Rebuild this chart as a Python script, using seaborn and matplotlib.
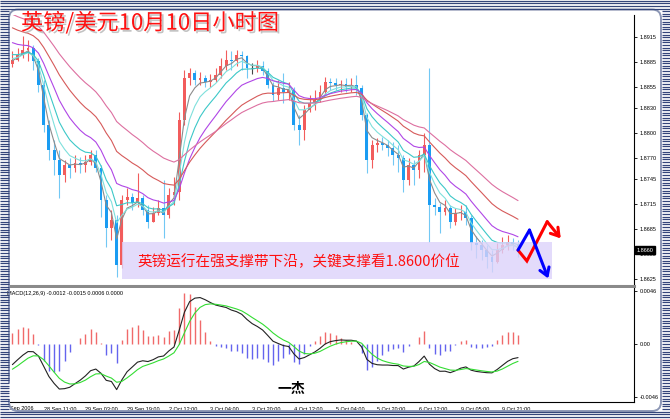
import numpy as np
import pandas as pd
import matplotlib
matplotlib.use("Agg")
import matplotlib.pyplot as plt
import matplotlib.patheffects as pe
from matplotlib.patches import Rectangle, FancyBboxPatch
import seaborn as sns

W, H = 670, 419

# === DATA: GBP/USD, 2-hour candles, 27 Sep 2006 -> 10 Oct 2006 ===
first_open = 1.8883
close = [1.8888, 1.8894, 1.8900, 1.8902, 1.8886, 1.8858, 1.8810, 1.8780, 1.8768, 1.8750,
         1.8762, 1.8758, 1.8764, 1.8762, 1.8766, 1.8774, 1.8758, 1.8720, 1.8686, 1.8696,
         1.8642, 1.8720, 1.8724, 1.8716, 1.8722, 1.8708, 1.8694, 1.8704, 1.8710, 1.8702,
         1.8726, 1.8730, 1.8816, 1.8866, 1.8872, 1.8864, 1.8866, 1.8862, 1.8864, 1.8870,
         1.8881, 1.8888, 1.8886, 1.8894, 1.8892, 1.8878, 1.8878, 1.8881, 1.8875, 1.8858,
         1.8846, 1.8854, 1.8850, 1.8852, 1.8810, 1.8804, 1.8828, 1.8836, 1.8840, 1.8850,
         1.8862, 1.8860, 1.8858, 1.8859, 1.8856, 1.8858, 1.8854, 1.8822, 1.8768, 1.8786,
         1.8788, 1.8786, 1.8782, 1.8774, 1.8770, 1.8744, 1.8762, 1.8756, 1.8774, 1.8786,
         1.8714, 1.8712, 1.8706, 1.8710, 1.8694, 1.8704, 1.8706, 1.8698, 1.8668, 1.8666,
         1.8660, 1.8652, 1.8646, 1.8660, 1.8666, 1.8670, 1.8667, 1.8660]
high = [1.8898, 1.8902, 1.8916, 1.8912, 1.8906, 1.8890, 1.8864, 1.8816, 1.8792, 1.8780,
        1.8768, 1.8770, 1.8774, 1.8772, 1.8774, 1.8780, 1.8780, 1.8762, 1.8726, 1.8708,
        1.8702, 1.8726, 1.8734, 1.8728, 1.8752, 1.8726, 1.8714, 1.8712, 1.8720, 1.8744,
        1.8735, 1.8748, 1.8826, 1.8876, 1.8878, 1.8876, 1.8874, 1.8870, 1.8871, 1.8878,
        1.8890, 1.8900, 1.8898, 1.8900, 1.8898, 1.8894, 1.8884, 1.8888, 1.8886, 1.8878,
        1.8862, 1.8864, 1.8872, 1.8862, 1.8856, 1.8822, 1.8834, 1.8846, 1.8852, 1.8858,
        1.8868, 1.8866, 1.8866, 1.8864, 1.8866, 1.8866, 1.8870, 1.8858, 1.8824, 1.8792,
        1.8794, 1.8796, 1.8792, 1.8790, 1.8786, 1.8774, 1.8770, 1.8768, 1.8780, 1.8800,
        1.8878, 1.8722, 1.8716, 1.8720, 1.8714, 1.8710, 1.8714, 1.8714, 1.8702, 1.8677,
        1.8672, 1.8666, 1.8660, 1.8668, 1.8676, 1.8678, 1.8674, 1.8672]
low = [1.8879, 1.8886, 1.8890, 1.8886, 1.8876, 1.8850, 1.8802, 1.8768, 1.8750, 1.8722,
       1.8742, 1.8746, 1.8754, 1.8752, 1.8754, 1.8762, 1.8754, 1.8700, 1.8664, 1.8672,
       1.8628, 1.8638, 1.8714, 1.8708, 1.8712, 1.8702, 1.8686, 1.8694, 1.8702, 1.8674,
       1.8698, 1.8714, 1.8720, 1.8810, 1.8858, 1.8858, 1.8858, 1.8856, 1.8856, 1.8862,
       1.8866, 1.8876, 1.8876, 1.8881, 1.8876, 1.8866, 1.8871, 1.8874, 1.8870, 1.8854,
       1.8839, 1.8840, 1.8836, 1.8840, 1.8804, 1.8786, 1.8792, 1.8826, 1.8828, 1.8838,
       1.8846, 1.8852, 1.8852, 1.8850, 1.8850, 1.8850, 1.8846, 1.8816, 1.8752, 1.8758,
       1.8778, 1.8780, 1.8773, 1.8762, 1.8754, 1.8730, 1.8738, 1.8738, 1.8746, 1.8754,
       1.8670, 1.8702, 1.8680, 1.8702, 1.8686, 1.8690, 1.8696, 1.8690, 1.8660, 1.8650,
       1.8648, 1.8638, 1.8634, 1.8644, 1.8656, 1.8660, 1.8660, 1.8652]

# moving averages (EMA, span in 2-hour bars) and their values just before the first bar
ma_names = ["ma_gray", "ma_cyan", "ma_teal", "ma_purple", "ma_red", "ma_pink"]
ma_spans = [3, 5, 8, 13, 22, 33]
ma_seeds = [1.8886, 1.8890, 1.8896, 1.8912, 1.8930, 1.8946]

# MACD(12,26,9) on hourly -> spans 6 / 13 / 4.5 on 2-hour bars
macd_fast_seed, macd_slow_seed, macd_signal_seed = 1.8880, 1.8902, -0.0024
macd_header = "MACD(12,26,9) -0.0012 -0.0015 0.0006 0.0000"

price_ticks = [1.8915, 1.8885, 1.8855, 1.8830, 1.8800, 1.8770, 1.8745,
               1.8715, 1.8685, 1.8655, 1.8625]
macd_ticks = [0.0046, 0.0, -0.0046]
macd_tick_labels = ["0.0046", "0.00", "-0.0046"]
time_labels = ["28 Sep 11:00", "29 Sep 03:00", "29 Sep 19:00", "2 Oct 12:00",
               "3 Oct 04:00", "3 Oct 20:00", "4 Oct 12:00", "5 Oct 04:00",
               "5 Oct 20:00", "6 Oct 12:00", "9 Oct 05:00", "9 Oct 21:00"]

# hand-drawn forecast paths (bar index, price)
red_path_x = [97, 98.7, 102.6, 105.2]
red_path_y = [1.8660, 1.8647, 1.8694, 1.8674]
blue_path_x = [97, 99.2, 102.8]
blue_path_y = [1.8660, 1.8684, 1.8626]

title_text = "英镑/美元10月10日小时图"
note_text = "英镑运行在强支撑带下沿，关键支撑看1.8600价位"
sign_text = "一杰"

# === STYLE ===
BULL = "#f25c5c"
BEAR = "#1a9cf2"
BEAR_WICK = "#72c8f4"
MA_COLORS = {"ma_gray": "#8c8c8c", "ma_cyan": "#7fe0dc", "ma_teal": "#3cc8c8",
             "ma_purple": "#b046e6", "ma_red": "#d65a5a", "ma_pink": "#dd6fa0"}
NAVY = "#34457a"
SMALL = dict(fontsize=4, fontfamily="Liberation Sans")

sns.set_style("white")
plt.rcParams["font.family"] = ["Noto Sans CJK SC", "DejaVu Sans"]

fig = plt.figure(figsize=(W / 100, H / 100), dpi=100)
fig.patch.set_facecolor("white")


def fig_box(x0, y0, x1, y1):
    return [x0 / W, 1 - y1 / H, (x1 - x0) / W, (y1 - y0) / H]


ax = fig.add_axes(fig_box(10, 15, 634, 286))
axm = fig.add_axes(fig_box(10, 288, 634, 401.7))

close = np.array(close)
high = np.array(high)
low = np.array(low)
n = len(close)
idx = np.arange(n)
opn = np.r_[first_open, close[:-1]]
up = close > opn
dn = close < opn
fl = ~(up | dn)

# === candles ===
ax.vlines(idx[up], low[up], high[up], color=BULL, lw=0.8, zorder=2)
ax.vlines(idx[dn], low[dn], high[dn], color=BEAR_WICK, lw=0.8, zorder=2)
ax.vlines(idx[fl], low[fl], high[fl], color="#444444", lw=0.8, zorder=2)
ax.bar(idx[up], np.maximum(close[up] - opn[up], 0.00006), bottom=opn[up],
       width=0.55, color=BULL, lw=0, zorder=3)
ax.bar(idx[dn], np.maximum(opn[dn] - close[dn], 0.00006), bottom=close[dn],
       width=0.55, color=BEAR, lw=0, zorder=3)
ax.hlines(close[fl], idx[fl] - 0.3, idx[fl] + 0.3, color="#444444", lw=0.8, zorder=3)

# === moving averages ===
rows = []
for name, span, seed in zip(ma_names, ma_spans, ma_seeds):
    ema = pd.Series(np.r_[seed, close]).ewm(span=span, adjust=False).mean().iloc[1:]
    rows.append(pd.DataFrame({"bar": idx, "value": ema.values, "ma": name}))
ma_df = pd.concat(rows, ignore_index=True)
sns.lineplot(data=ma_df, x="bar", y="value", hue="ma", palette=MA_COLORS,
             lw=0.8, legend=False, sort=False, ax=ax, zorder=4)

ax.set_xlim(-0.46, 119.25)
ax.set_ylim(1.86170, 1.89417)
ax.set_xlabel("")
ax.set_ylabel("")
ax.set_xticks([])
ax.yaxis.tick_right()
ax.set_yticks(price_ticks)
ax.set_yticklabels([f"{t:.4f}" for t in price_ticks], **SMALL)
ax.tick_params(axis="y", length=2, width=0.6, pad=2, colors="black")
for s in ["top", "left"]:
    ax.spines[s].set_visible(False)
ax.spines["right"].set_color("black")
ax.spines["right"].set_linewidth(0.8)
ax.spines["bottom"].set_color("#8a8a8a")
ax.spines["bottom"].set_linewidth(2.2)

last = close[-1]
ax.text(1.004, last, f"{last:.4f}", transform=ax.get_yaxis_transform(),
        ha="left", va="center", color="white", zorder=10, clip_on=False,
        bbox=dict(boxstyle="square,pad=0.25", fc="black", ec="black"), **SMALL)

# === MACD panel ===
fast = pd.Series(np.r_[macd_fast_seed, close]).ewm(span=6, adjust=False).mean().iloc[1:].values
slow = pd.Series(np.r_[macd_slow_seed, close]).ewm(span=13, adjust=False).mean().iloc[1:].values
macd = fast - slow
signal = pd.Series(np.r_[macd_signal_seed, macd]).ewm(span=4.5, adjust=False).mean().iloc[1:].values
hist = 2.5 * (macd - signal)

axm.vlines(idx, 0, hist, colors=np.where(hist >= 0, "#f06a6a", "#6464ee"), lw=1.0, zorder=2)
macd_df = pd.concat([pd.DataFrame({"bar": idx, "value": macd, "line": "macd"}),
                     pd.DataFrame({"bar": idx, "value": signal, "line": "signal"})],
                    ignore_index=True)
sns.lineplot(data=macd_df, x="bar", y="value", hue="line",
             palette={"macd": "#222222", "signal": "#33dd33"},
             lw=0.8, legend=False, sort=False, ax=axm, zorder=3)

axm.set_xlim(-0.46, 119.25)
axm.set_ylim(-0.00498, 0.00486)
axm.set_xlabel("")
axm.set_ylabel("")
axm.yaxis.tick_right()
axm.set_yticks(macd_ticks)
axm.set_yticklabels(macd_tick_labels, **SMALL)
axm.tick_params(axis="y", length=2, width=0.6, pad=2, colors="black")
tick_bars = 6 + 8 * np.arange(len(time_labels))
axm.set_xticks(tick_bars)
axm.set_xticklabels(time_labels, ha="left", **SMALL)
axm.tick_params(axis="x", length=2.5, width=0.6, pad=1.5, colors="black")
for s in ["top", "left"]:
    axm.spines[s].set_visible(False)
for s in ["right", "bottom"]:
    axm.spines[s].set_color("black")
    axm.spines[s].set_linewidth(0.8)

# === overlay in pixel coordinates: frame, notes, forecast arrows ===
ov = fig.add_axes([0, 0, 1, 1], zorder=10)
ov.set_xlim(0, W)
ov.set_ylim(H, 0)
ov.axis("off")
ov.patch.set_alpha(0)

axm.text(7, 293.5, macd_header, transform=ov.transData, ha="left", va="center",
         color="black", **SMALL)
axm.text(10, 408, "Sep 2006", transform=ov.transData, ha="left", va="center",
         color="black", **SMALL)

ys = np.arange(0.8, H, 2.6)
band = (ys < 9) | (ys > 411)
ov.hlines(ys[band], 0, W, color=NAVY, lw=0.9)
ov.hlines(ys[~band], 0, 8.5, color=NAVY, lw=0.9)
ov.hlines(ys[~band], 661.5, W, color=NAVY, lw=0.9)
ov.add_patch(FancyBboxPatch((9, 9.5), 652, 401.5, boxstyle="round,pad=0,rounding_size=9",
                            fc="none", ec="#8d97b5", lw=1.4))
ov.add_patch(Rectangle((0, 383), 48, 16, fc="white", ec="none"))

ov.add_patch(Rectangle((122, 242), 430, 37, fc="#dcd2fa", ec="none", alpha=0.8))
ov.text(137, 261.5, note_text, color="#ff1010", fontsize=10.5, ha="left", va="center")

ov.text(21, 23, title_text, color="#ff1010", fontsize=16, ha="left", va="center",
        path_effects=[pe.withSimplePatchShadow(offset=(1.5, -1.5), shadow_rgbFace="#aaaaaa", alpha=0.7)])
ov.text(277, 389, sign_text, color="black", fontsize=10, fontweight="bold", ha="left", va="center")

for px, py, col in [(red_path_x, red_path_y, "#ff0000"), (blue_path_x, blue_path_y, "#0000ff")]:
    ov.plot(px[:-1], py[:-1], color=col, lw=2.2, transform=ax.transData, clip_on=False,
            solid_joinstyle="miter")
    ov.annotate("", xy=(px[-1], py[-1]), xytext=(px[-2], py[-2]),
                xycoords=ax.transData, textcoords=ax.transData,
                arrowprops=dict(arrowstyle="->,head_length=0.55,head_width=0.35",
                                color=col, lw=2.2, shrinkA=0, shrinkB=0))

fig.savefig("out.png", dpi=100)
